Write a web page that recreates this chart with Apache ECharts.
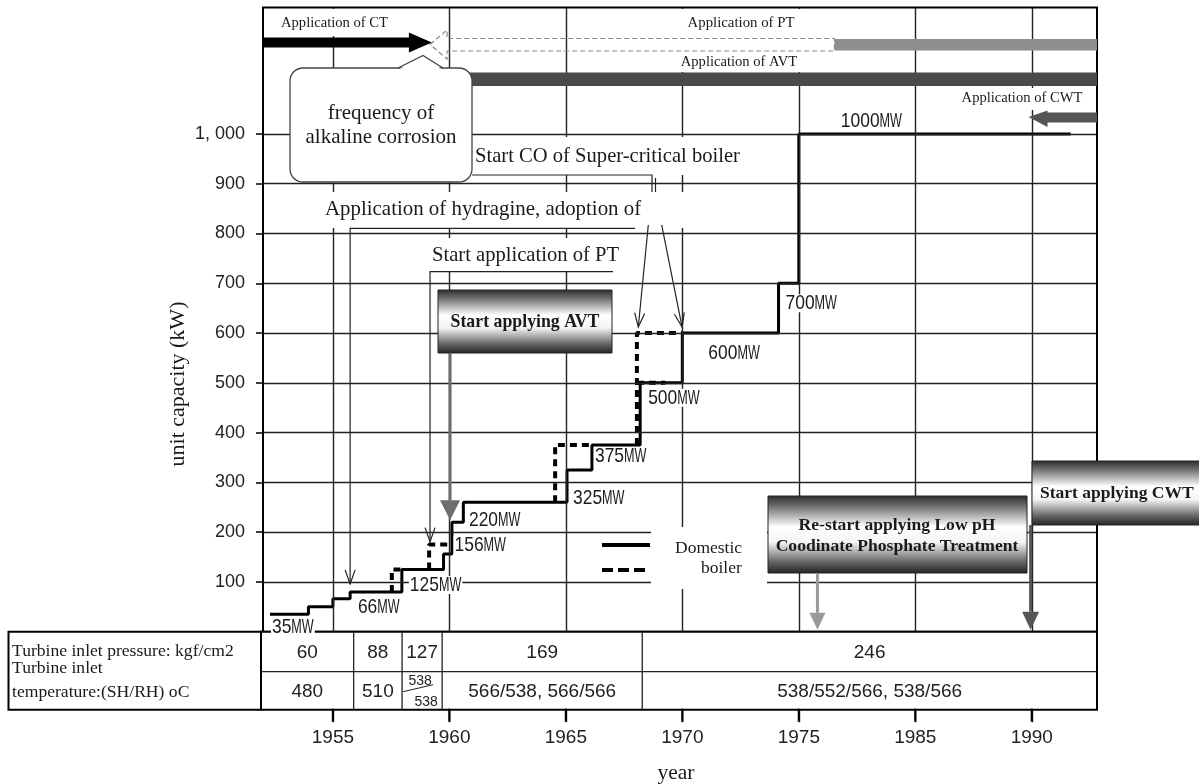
<!DOCTYPE html>
<html>
<head>
<meta charset="utf-8">
<script src="https://cdn.jsdelivr.net/npm/echarts@6/dist/echarts.min.js"></script>
<style>
  html, body { margin: 0; padding: 0; background: #fff; }
  #chart { width: 1199px; height: 784px; }
</style>
</head>
<body>
<div id="chart"></div>
<script>
// ---- Data -------------------------------------------------------------
// Domestic boiler unit capacity: start (axis year) of each level and its MW
const domesticYears = [1952.3, 1953.95, 1955.0, 1955.74, 1957.96, 1959.75, 1960.11, 1960.6, 1965.05, 1966.12, 1968.19, 1970.0, 1974.13, 1975.0, 1986.67];
const domesticMW    = [35, 50, 66, 80, 125, 156, 220, 260, 325, 375, 500, 600, 700, 1000, 1000];

// Boiler runs drawn dashed: rise at start year from start MW to end MW, then run to end year
const dashedStartYear = [1957.53, 1959.13, 1964.54, 1968.05, 1968.05];
const dashedStartMW   = [80, 125, 260, 375, 500];
const dashedEndYear   = [1957.96, 1960.11, 1966.12, 1970.0, 1969.27];
const dashedEndMW     = [125, 175, 375, 600, 500];

// Capacity labels (MW) and the year of the level they name
const capacityLabelMW   = [35, 66, 125, 156, 220, 325, 375, 500, 600, 700, 1000];
const capacityLabelYear = [1952.3, 1955.0, 1957.96, 1959.75, 1960.11, 1965.05, 1966.12, 1968.19, 1970.0, 1974.13, 1975.0];

// Axis ticks
const xTickValues = [1955, 1960, 1965, 1970, 1975, 1980, 1985];
const xTickLabels = ['1955', '1960', '1965', '1970', '1975', '1985', '1990'];
const yTickValues = [100, 200, 300, 400, 500, 600, 700, 800, 900, 1000];

// Water treatment periods (axis years)
const ctEndYear = 1959.25;
const ptStartYear = 1959.17;
const ptSolidYear = 1976.53;
const avtBarYear = 1960.59;
const cwtBarYear = 1984.86;

// Event pointers: year and MW level each arrow lands on
const pointerYears = [1955.74, 1959.17, 1968.11, 1969.99];
const pointerMW    = [80, 175, 600, 600];
const avtArrowYear = 1960.03;
const lowPhArrowYear = 1975.8;
const cwtArrowYear = 1984.95;

// Turbine inlet table
const tableBreakYears = [1955.89, 1957.97, 1959.69, 1968.28];
const pressureRow = ['60', '88', '127', '169', '246'];
const temperatureRow = ['480', '510', '538/538', '566/538, 566/566', '538/552/566, 538/566'];

// ---- Chart ------------------------------------------------------------
// The plotting area runs below zero so the year grid lines reach past the
// table and show as ticks under it; the table covers the band in between.
const X_MIN = 1952, X_MAX = 1987.8, Y_MIN = -182, Y_MAX = 1254;
const SERIF = '"Liberation Serif","Times New Roman",serif';
const SANS = '"Liberation Sans",Arial,sans-serif';

const chart = echarts.init(document.getElementById('chart'), null, { renderer: 'canvas' });

const dashedPoints = [];
dashedStartYear.forEach((y, i) => {
  dashedPoints.push([y, dashedStartMW[i]], [y, dashedEndMW[i]], [dashedEndYear[i], dashedEndMW[i]], null);
});

chart.setOption({
  animation: false,
  backgroundColor: '#fff',
  grid: { left: 263, right: 102, top: 7.5, bottom: 61.7, outerBoundsMode: 'none' },
  xAxis: {
    type: 'value', min: X_MIN, max: X_MAX,
    axisLine: { show: false }, axisTick: { show: false }, axisLabel: { show: false }, splitLine: { show: false }
  },
  yAxis: {
    type: 'value', min: Y_MIN, max: Y_MAX,
    axisLine: { show: false },
    axisTick: { show: true, customValues: [0].concat(yTickValues), length: 7, lineStyle: { color: '#000', width: 1.5 } },
    axisLabel: {
      customValues: yTickValues,
      formatter: v => (v === 1000 ? '1, 000' : String(v)),
      fontSize: 18, fontFamily: SANS, color: '#222', margin: 18
    },
    splitLine: { show: false }
  },
  series: [
    {
      type: 'line', name: 'Domestic', step: 'end', symbol: 'none', z: 3,
      data: domesticYears.map((y, i) => [y, domesticMW[i]]),
      lineStyle: { color: '#000', width: 3 },
      markLine: {
        silent: true, symbol: 'none', animation: false, label: { show: false },
        lineStyle: { color: '#222', width: 1.4, type: 'solid' },
        data: yTickValues.map(v => ({ yAxis: v })).concat(xTickValues.map(v => ({ xAxis: v })))
      }
    },
    {
      type: 'line', name: 'boiler', symbol: 'none', connectNulls: false, z: 4,
      data: dashedPoints,
      lineStyle: { color: '#000', width: 4, type: [7, 5] }
    }
  ]
});

// ---- Annotations placed through the axes ------------------------------
const P = (x, y) => chart.convertToPixel({ gridIndex: 0 }, [x, y]);
const px = x => P(x, 0)[0];
const py = y => P(1960, y)[1];

const g = [];
const add = e => { g.push(Object.assign({ silent: true }, e)); };

function text(str, x, y, size, o = {}) {
  add({
    type: 'text', x, y, z: o.z || 14, rotation: o.rot || 0,
    style: {
      text: str, x: 0, y: 0,
      font: `${o.weight || 'normal'} ${size}px ${o.family || SERIF}`,
      fill: o.color || '#1a1a1a',
      textAlign: o.align || 'left', align: o.align || 'left',
      textVerticalAlign: 'middle', verticalAlign: 'middle'
    }
  });
}
function rect(x, y, w, h, style, z, r) {
  add({ type: 'rect', z: z || 10, shape: { x, y, width: w, height: h, r: r || 0 }, style });
}
function line(points, style, z) {
  add({ type: 'polyline', z: z || 12, shape: { points }, style: Object.assign({ fill: null }, style) });
}
function openHead(x1, y1, x2, y2, len, half) {
  const dx = x2 - x1, dy = y2 - y1, L = Math.hypot(dx, dy), ux = dx / L, uy = dy / L;
  const bx = x2 - ux * len, by = y2 - uy * len;
  return [[bx - uy * half, by + ux * half], [x2, y2], [bx + uy * half, by - ux * half]];
}
function solidHead(x2, yBase, yTip, half, fill) {
  add({ type: 'polygon', z: 13, shape: { points: [[x2 - half, yBase], [x2 + half, yBase], [x2, yTip]] }, style: { fill } });
}
function gradBox(x, y, w, h) {
  rect(x, y, w, h, {
    fill: {
      type: 'linear', x: 0, y: 0, x2: 0, y2: 1,
      colorStops: [
        { offset: 0, color: '#2a2a2a' }, { offset: 0.12, color: '#666' },
        { offset: 0.4, color: '#ffffff' }, { offset: 0.6, color: '#f4f4f4' },
        { offset: 0.85, color: '#666' }, { offset: 1, color: '#222' }
      ]
    },
    stroke: '#222', lineWidth: 1
  }, 12);
}

const xL = px(X_MIN), xR = px(X_MAX), y0 = py(0), yTop = py(Y_MAX);
const rowMid = y0 + 40, tBot = y0 + 78;

// white grounds behind annotation texts
rect(268, 9, 130, 27, { fill: '#fff' }, 5);
rect(668, 9, 140, 63, { fill: '#fff' }, 5);
rect(955, 88, 135, 22, { fill: '#fff' }, 5);
rect(472, 137, 282, 38, { fill: '#fff' }, 5);
rect(322, 192, 368, 36, { fill: '#fff' }, 5);
rect(428, 238, 197, 33, { fill: '#fff' }, 5);
rect(651, 527, 116, 62, { fill: '#fff' }, 5);

// treatment bars across the top
const ctTip = px(ctEndYear);
add({ type: 'polygon', z: 11, shape: { points: [[xL, 37.5], [ctTip - 23, 37.5], [ctTip - 23, 32.5], [ctTip, 42.5], [ctTip - 23, 52.5], [ctTip - 23, 47.5], [xL, 47.5]] }, style: { fill: '#000' } });
const ptTip = px(ptStartYear), ptSolid = px(ptSolidYear);
add({ type: 'polygon', z: 11, shape: { points: [[ptTip, 44.5], [ptTip + 17, 30], [ptTip + 17, 38.5], [ptSolid, 38.5], [ptSolid, 51], [ptTip + 17, 51], [ptTip + 17, 59]] }, style: { fill: null, stroke: '#8a8a8a', lineWidth: 1.2, lineDash: [5, 3] } });
rect(ptSolid, 39, xR - ptSolid, 11.5, { fill: '#8e8e8e' }, 11);
const avtX = px(avtBarYear);
rect(avtX, 72.5, xR - avtX, 13.5, { fill: '#4a4a4a' }, 11);
const cwtTip = px(cwtBarYear);
add({ type: 'polygon', z: 11, shape: { points: [[cwtTip, 117], [cwtTip + 19, 110.5], [cwtTip + 19, 112.5], [xR, 112.5], [xR, 122.5], [cwtTip + 19, 122.5], [cwtTip + 19, 127]] }, style: { fill: '#555' } });

text('Application of CT', 281, 23, 14.6);
text('Application of PT', 741, 23, 14.8, { align: 'center' });
text('Application of AVT', 739, 62, 14.6, { align: 'center' });
text('Application of CWT', 1022, 98, 14.6, { align: 'center' });

// speech bubble
rect(290, 68, 182, 114, { fill: '#fff', stroke: '#444', lineWidth: 1.3 }, 12, 13);
add({ type: 'polygon', z: 13, shape: { points: [[399, 69.5], [423, 55.5], [442, 69.5]] }, style: { fill: '#fff' } });
line([[398, 68], [423, 55.5], [443, 68]], { stroke: '#444', lineWidth: 1.3 }, 13);
text('frequency of', 381, 113, 21, { align: 'center' });
text('alkaline corrosion', 381, 137, 21, { align: 'center' });

// event call-outs with pointer lines
text('Start CO of Super-critical boiler', 475, 157, 20.6);
line([[472, 175], [652, 175], [652, 192]], { stroke: '#222', lineWidth: 1.2 });
line([[655.5, 178], [655.5, 192]], { stroke: '#222', lineWidth: 1.2 });

text('Application of hydragine, adoption of', 325, 210, 20.9);
const hx = px(pointerYears[0]), hy = py(pointerMW[0]) - 8;
line([[635, 228.3], [hx, 228.3], [hx, hy]], { stroke: '#222', lineWidth: 1.2 });
line(openHead(hx, 228, hx, hy, 14, 5), { stroke: '#222', lineWidth: 1.2 });

text('Start application of PT', 432, 256, 20.6);
const sx = px(pointerYears[1]), sy = py(pointerMW[1]) - 3;
line([[613, 271.7], [sx, 271.7], [sx, sy]], { stroke: '#222', lineWidth: 1.2 });
line(openHead(sx, 272, sx, sy, 14, 5), { stroke: '#222', lineWidth: 1.2 });

const d1x = px(pointerYears[2]), d1y = py(pointerMW[2]) - 6;
const d2x = px(pointerYears[3]), d2y = py(pointerMW[3]) - 6;
line([[648.3, 225], [d1x, d1y]], { stroke: '#222', lineWidth: 1.2 });
line(openHead(648.3, 225, d1x, d1y, 14, 5), { stroke: '#222', lineWidth: 1.2 });
line([[661.7, 225], [d2x, d2y]], { stroke: '#222', lineWidth: 1.2 });
line(openHead(661.7, 225, d2x, d2y, 14, 5), { stroke: '#222', lineWidth: 1.2 });

// AVT box and arrow
gradBox(438, 290, 174, 63);
text('Start applying AVT', 525, 322, 17.8, { align: 'center', weight: 'bold' });
const ax = px(avtArrowYear), aTip = py(220) - 2;
line([[ax, 353], [ax, aTip - 20]], { stroke: '#6e6e6e', lineWidth: 3 });
solidHead(ax, aTip - 20, aTip, 10, '#6e6e6e');

// Low pH phosphate box and arrow
gradBox(768, 496, 259, 77);
text('Re-start applying Low pH', 897, 525, 17.6, { align: 'center', weight: 'bold' });
text('Coodinate Phosphate Treatment', 897, 546, 17.6, { align: 'center', weight: 'bold' });
const lx = px(lowPhArrowYear), lTip = y0 - 2;
line([[lx, 573], [lx, lTip - 17]], { stroke: '#9a9a9a', lineWidth: 3 });
solidHead(lx, lTip - 17, lTip, 8, '#9a9a9a');

// CWT box and arrow
gradBox(1032, 461, 175, 64);
text('Start applying CWT', 1040, 493, 17.5, { weight: 'bold' });
const cx = px(cwtArrowYear);
line([[cx, 525], [cx, lTip - 18]], { stroke: '#555', lineWidth: 3 });
solidHead(cx, lTip - 18, lTip, 8.5, '#555');

// legend
line([[602, 545], [650, 545]], { stroke: '#000', lineWidth: 4 });
line([[602, 570], [650, 570]], { stroke: '#000', lineWidth: 4, lineDash: [11, 5] });
text('Domestic', 675, 548, 17.5);
text('boiler', 701, 568, 17.5);

// capacity labels, set in a narrow face
const labelOffsets = [[2, 13], [25, 8], [8, 15.5], [11, -9], [17, -2], [6, 28], [3, 11.6], [8, 15], [26, 20], [7, 20], [42, -12.5]];
capacityLabelMW.forEach((mw, i) => {
  const p = P(capacityLabelYear[i], mw);
  const digits = String(mw);
  const dW = digits.length * 0.556 * 21 * 0.83;
  const w = dW + 22.4;
  const left = p[0] + labelOffsets[i][0], cy = p[1] + labelOffsets[i][1];
  rect(left - 1, cy - 9, w + 2, 18, { fill: '#fff' }, 15);
  add({ type: 'text', z: 16, x: left, y: cy, scaleX: 0.83, style: { text: digits, x: 0, y: 0, font: `21px ${SANS}`, fill: '#1a1a1a', textAlign: 'left', align: 'left', textVerticalAlign: 'middle', verticalAlign: 'middle' } });
  add({ type: 'text', z: 16, x: left + dW, y: cy, scaleX: 0.6, style: { text: 'MW', x: 0, y: 0, font: `21px ${SANS}`, fill: '#1a1a1a', textAlign: 'left', align: 'left', textVerticalAlign: 'middle', verticalAlign: 'middle' } });
});

// chart frame
rect(xL, yTop, xR - xL, y0 - yTop, { fill: null, stroke: '#000', lineWidth: 2 }, 9);

// axis names
text('unit capacity (kW)', 178, 384, 22, { align: 'center', rot: Math.PI / 2 });
text('year', 676, 773, 21.5, { align: 'center' });

// turbine inlet table
rect(8.5, y0, xL - 2 - 8.5, tBot - y0, { fill: '#fff', stroke: '#000', lineWidth: 2 }, 9);
text('Turbine inlet pressure: kgf/cm2', 12, 651, 17.6);
text('Turbine inlet', 12, 668, 17.6);
text('temperature:(SH/RH) oC', 12, 692, 17.6);
rect(xL - 2, y0, xR - xL + 2, tBot - y0, { fill: '#fff', stroke: '#000', lineWidth: 2 }, 9);
line([[xL - 2, rowMid], [xR, rowMid]], { stroke: '#222', lineWidth: 1.3 }, 10);
const bounds = [xL - 2].concat(tableBreakYears.map(px)).concat([xR]);
tableBreakYears.forEach(y => { const x = px(y); line([[x, y0], [x, tBot]], { stroke: '#222', lineWidth: 1.3 }, 10); });
pressureRow.forEach((t, i) => {
  text(t, (bounds[i] + bounds[i + 1]) / 2, y0 + 21, 19, { align: 'center', family: SANS, color: '#222' });
});
temperatureRow.forEach((t, i) => {
  const l = bounds[i], r = bounds[i + 1], c = (l + r) / 2;
  if (r - l < 50 && t.indexOf('/') > 0) {
    const parts = t.split('/');
    text(parts[0], c - 2, rowMid + 9, 14, { align: 'center', family: SANS, color: '#222' });
    text(parts[1], c + 4, rowMid + 30, 14, { align: 'center', family: SANS, color: '#222' });
    line([[l + 1, rowMid + 20], [r - 9, rowMid + 13]], { stroke: '#222', lineWidth: 1 }, 13);
  } else {
    text(t, c, rowMid + 20, 19, { align: 'center', family: SANS, color: '#222' });
  }
});

// year labels under the table, with heavier tick marks over the grid-line ends
xTickValues.forEach((v, i) => {
  const x = px(v);
  add({ type: 'polygon', z: 40, shape: { points: [[x - 1.1, tBot - 1], [x + 1.1, tBot - 1], [x + 1.1, tBot + 12], [x - 1.1, tBot + 12]] }, style: { fill: '#000' } });
  text(xTickLabels[i], x, tBot + 28, 19, { align: 'center', family: SANS, color: '#222', z: 30 });
});

chart.setOption({ graphic: { elements: g } });
</script>
</body>
</html>
